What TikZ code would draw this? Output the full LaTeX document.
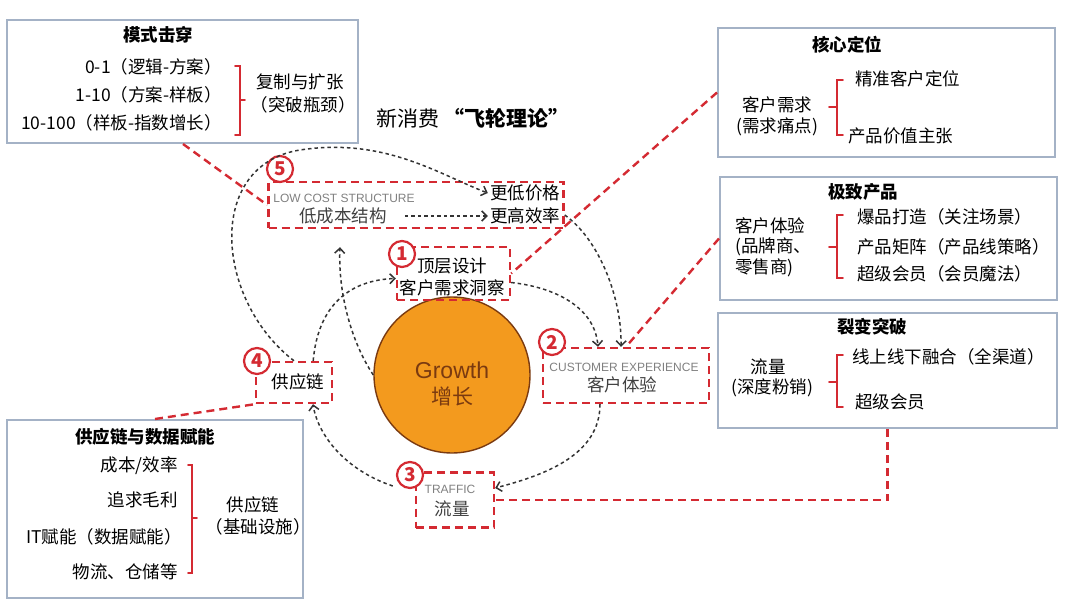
\documentclass[tikz,border=0pt]{standalone}
\usepackage{fontspec}
\setmainfont{Noto Sans CJK SC}
\newfontfamily\latinsans{Liberation Sans}
\usetikzlibrary{arrows.meta}

\definecolor{linkred}{HTML}{D42A32}
\definecolor{boxedge}{HTML}{A4B2C6}
\definecolor{growthfill}{HTML}{F39A1E}
\definecolor{growthtext}{HTML}{7A3A10}
\definecolor{engrey}{HTML}{808080}

\begin{document}
\begin{tikzpicture}[
			x=1pt, y=-1pt,
			every node/.style={font=\fontsize{17.5}{21}\selectfont, inner sep=2pt},
			infobox/.style={draw=boxedge, line width=2pt, fill=white},
			redbox/.style={draw=linkred, line width=2.4pt, dash pattern=on 8pt off 5pt},
			redlink/.style={draw=linkred, line width=2.4pt, dash pattern=on 8pt off 5pt},
			flowarrow/.style={draw=black!80, line width=1.5pt, dash pattern=on 3.5pt off 3pt,
				-{Straight Barb[length=5pt,width=10pt,line width=1.5pt]}},
			bracket/.style={draw=linkred, line width=1.8pt, line cap=round},
			numcirc/.style={circle, draw=linkred, line width=2.2pt, fill=white, minimum size=26pt,
				inner sep=0pt, text=linkred, font=\fontsize{19}{19}\selectfont\bfseries},
			entext/.style={text=engrey, font=\latinsans\fontsize{12}{14}\selectfont},
			titletext/.style={font=\fontsize{17.5}{21}\selectfont\bfseries}
			]
			\useasboundingbox (0,0) rectangle (1080,607);
			
			% Title
			\node (title) at (473,118) {\fontsize{21}{25}\selectfont 新消费\,\textbf{“飞轮理论”}};
			
			% Info boxes
			\node[infobox, minimum width=351pt, minimum height=123pt] (modebox) at (182.5,81.5) {};
			\node[infobox, minimum width=337pt, minimum height=129pt] (corebox) at (886.5,92.5) {};
			\node[infobox, minimum width=337pt, minimum height=123pt] (prodbox) at (888.5,238.5) {};
			\node[infobox, minimum width=339pt, minimum height=115pt] (fissbox) at (887.5,370.5) {};
			\node[infobox, minimum width=296pt, minimum height=178pt] (supbox) at (155,509) {};
			
			% Box: mode breakthrough
			\node[titletext] (modetitle) at (158,35) {模式击穿};
			\node[anchor=east] (mode1) at (224,67) {0-1（逻辑-方案）};
			\node[anchor=east] (mode2) at (224,95) {1-10（方案-样板）};
			\node[anchor=east] (mode3) at (224,123) {10-100（样板-指数增长）};
			\draw[bracket] (235,66) -- (240,66) -- (240,135) -- (235,135);
			\draw[bracket] (240,100) -- (245,100);
			\node (moderes1) at (300,82) {复制与扩张};
			\node (moderes2) at (303,105) {（突破瓶颈）};
			
			% Box: core positioning
			\node[titletext] (coretitle) at (847,45) {核心定位};
			\node (core1) at (777,105) {客户需求};
			\node (core2) at (777,127) {(需求痛点)};
			\draw[bracket] (843,80) -- (837,80) -- (837,135) -- (843,135);
			\draw[bracket] (837,107) -- (829,107);
			\node[anchor=west] (coreres1) at (853,79) {精准客户定位};
			\node[anchor=west] (coreres2) at (846,136) {产品价值主张};
			
			% Box: extreme product
			\node[titletext] (prodtitle) at (863,192) {极致产品};
			\node[anchor=west] (prod1) at (733,226) {客户体验};
			\node[anchor=west] (prod2) at (733,247) {(品牌商、};
			\node[anchor=west] (prod3) at (733,268) {零售商)};
			\draw[bracket] (843,215) -- (837,215) -- (837,278) -- (843,278);
			\draw[bracket] (837,247) -- (829,247);
			\node[anchor=west] (prodres1) at (855,217) {爆品打造（关注场景）};
			\node[anchor=west] (prodres2) at (855,247) {产品矩阵（产品线策略）};
			\node[anchor=west] (prodres3) at (855,274) {超级会员（会员魔法）};
			
			% Box: fission breakthrough
			\node[titletext] (fisstitle) at (872,327) {裂变突破};
			\node (fiss1) at (768,367) {流量};
			\node (fiss2) at (772,388) {(深度粉销)};
			\draw[bracket] (843,355) -- (837,355) -- (837,407) -- (843,407);
			\draw[bracket] (837,382) -- (829,382);
			\node[anchor=west] (fissres1) at (850,357) {线上线下融合（全渠道）};
			\node[anchor=west] (fissres2) at (853,402) {超级会员};
			
			% Box: supply chain and data
			\node[titletext] (suptitle) at (145,437) {供应链与数据赋能};
			\node[anchor=east] (sup1) at (180,466) {成本/效率};
			\node[anchor=east] (sup2) at (180,500) {追求毛利};
			\node[anchor=east] (sup3) at (184,537) {IT赋能（数据赋能）};
			\node[anchor=east] (sup4) at (180,572) {物流、仓储等};
			\draw[bracket] (188,465) -- (192,465) -- (192,573) -- (188,573);
			\draw[bracket] (192,518) -- (197,518);
			\node (supres1) at (253,505) {供应链};
			\node (supres2) at (258,527) {（基础设施）};
			
			% Growth circle
			\node[circle, draw=growthtext, line width=1.4pt, fill=growthfill, minimum size=156pt,
				inner sep=0pt] (growth) at (452,375) {};
			\node[text=growthtext, font=\latinsans\fontsize{23}{25}\selectfont] (growthen) at (452,370) {Growth};
			\node[text=growthtext, font=\fontsize{21}{23}\selectfont] (growthzh) at (452,396) {增长};
			
			% Red dashed boxes
			\node[redbox, minimum width=295pt, minimum height=46pt] (costbox) at (416,205) {};
			\node[redbox, minimum width=113pt, minimum height=53pt] (topbox) at (453.5,273.5) {};
			\node[redbox, minimum width=166pt, minimum height=55pt] (cxbox) at (626,375.5) {};
			\node[redbox, minimum width=78pt, minimum height=55pt] (trafbox) at (455,500) {};
			\node[redbox, minimum width=76pt, minimum height=41pt] (chainbox) at (294,382.5) {};
			
			% Texts in red boxes
			\node[entext] (costen) at (344,198) {LOW COST STRUCTURE};
			\node[text=black!75] (costlbl) at (343,216) {低成本结构};
			\node (pricelbl) at (525,193) {更低价格};
			\node (efflbl) at (525,216) {更高效率};
			\node (toplbl1) at (452,266) {顶层设计};
			\node (toplbl2) at (452,288) {客户需求洞察};
			\node[entext] (cxen) at (624,367) {CUSTOMER EXPERIENCE};
			\node[text=black!75] (cxzh) at (622,385) {客户体验};
			\node[entext] (trafen) at (450,489) {TRAFFIC};
			\node[text=black!75] (trafzh) at (452,509) {流量};
			\node (chainlbl) at (298,382) {供应链};
			
			% Circled numbers
			\node[numcirc] (num5) at (280,169) {5};
			\node[numcirc] (num1) at (402,254) {1};
			\node[numcirc] (num2) at (552,342) {2};
			\node[numcirc] (num3) at (410,475) {3};
			\node[numcirc] (num4) at (257,361) {4};
			
			% Red links from info boxes
			\draw[redlink] (183,0 |- modebox.south) -- (costbox.west);
			\draw[redlink] (corebox.west) -- (topbox.east);
			\draw[redlink] (prodbox.west) -- (cxbox.north);
			\draw[redlink] (fissbox.south) -- (fissbox.south |- trafbox.east) -- (trafbox.east);
			\draw[redlink] (supbox.north) -- (chainbox.south west);
			
			% Flywheel arrows
			\draw[flowarrow] (chainbox.north) .. controls (215,300) and (205,165) .. (300,150)
				.. controls (385,137) and (440,175) .. (pricelbl.west);
			\draw[flowarrow] ([xshift=16pt]costlbl.east) -- (efflbl.west);
			\draw[flowarrow] ([xshift=-20pt]chainbox.north east) .. controls (318,305) and (350,280) .. ([yshift=-5pt]topbox.west);
			\draw[flowarrow] (growth.west) .. controls (350,340) and (338,290) .. ([xshift=-76pt,yshift=-18pt]costbox.south);
			\draw[flowarrow] ([yshift=-9pt]topbox.east) .. controls (560,288) and (595,310) .. ([xshift=-28pt]cxbox.north);
			\draw[flowarrow] ([yshift=-10pt]costbox.east) .. controls (600,240) and (622,300) .. ([xshift=-5pt]cxbox.north);
			\draw[flowarrow] ([xshift=-26pt]cxbox.south) .. controls (600,455) and (545,475) .. ([yshift=12pt]trafbox.east);
			\draw[flowarrow] ([xshift=-22pt,yshift=14pt]trafbox.west) .. controls (345,470) and (318,435) .. ([xshift=19pt]chainbox.south);
		\end{tikzpicture}
\end{document}
